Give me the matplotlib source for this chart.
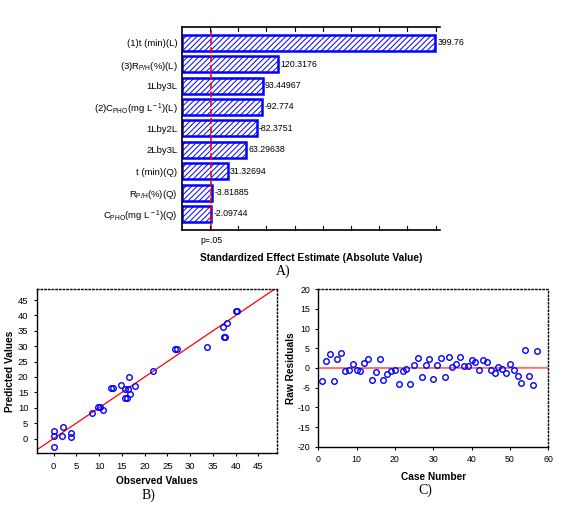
import matplotlib
matplotlib.use("Agg")
import matplotlib.pyplot as plt
import numpy as np

plt.rcParams['font.family'] = ['Liberation Sans', 'DejaVu Sans']
plt.rcParams['mathtext.fontset'] = 'custom'
plt.rcParams['mathtext.rm'] = 'Liberation Sans'
plt.rcParams['mathtext.it'] = 'Liberation Sans'
plt.rcParams['axes.unicode_minus'] = False
plt.rcParams['hatch.linewidth'] = 0.7
plt.rcParams['hatch.color'] = '#0000ff'

# ---- Data: Pareto chart (A) ----
effect_names = [r"(1)t (min)(L)",
                r"(3)R$_{\rm P/H}$(%)(L)",
                r"1Lby3L",
                r"(2)C$_{\rm PHO}$(mg L$^{\rm -1}$)(L)",
                r"1Lby2L",
                r"2Lby3L",
                r"t (min)(Q)",
                r"R$_{\rm P/H}$(%)(Q)",
                r"C$_{\rm PHO}$(mg L$^{\rm -1}$)(Q)"]
effect_values = [399.76, 120.3176, 93.44967, 92.774, 82.3751, 63.29638, 31.32694, 3.81885, 2.09744]
effect_labels = ["399.76", "120.3176", "93.44967", "-92.774", "-82.3751", "63.29638", "31.32694", "-3.81885", "-2.09744"]
p_crit = 2.0

# ---- Data: observed vs predicted (B) ----
observed = [0, 0, 0, 1.8, 2.0, 3.8, 3.9, 8.4, 9.8, 10.2, 10.8, 12.6, 13.0, 14.9, 15.6, 15.6, 16.2, 16.3,
            16.6, 16.8, 17.8, 21.9, 26.6, 27.0, 33.6, 37.2, 37.5, 37.7, 38.0, 40.0, 40.3]
predicted = [2.6, 0.7, -2.6, 0.7, 3.6, 1.7, 0.4, 8.2, 10.1, 10.4, 9.3, 16.3, 16.3, 17.4, 16.0, 13.1, 13.1, 16.0,
             20.1, 14.5, 17.1, 22.0, 29.1, 29.1, 29.9, 36.2, 33.1, 33.1, 37.4, 41.4, 41.4]

# ---- Data: residuals by case (C) ----
case_number = list(range(1, 58))
residuals = [-3.2, 1.8, 3.6, -3.2, 2.2, 3.7, -0.7, -0.4, 1.1, -0.6,
             -0.8, 1.3, 2.2, -3.0, -1.0, 2.2, -3.0, -1.5, -0.7, -0.4,
             -4.1, -0.7, -0.2, -4.1, 0.7, 2.6, -2.4, 0.7, 2.2, -2.8,
             0.7, 2.6, -2.4, 2.9, 0.25, 0.9, 2.9, 0.5, 0.5, 2.0,
             1.4, -0.6, 2.0, 1.6, -0.4, -1.3, 0.25, -0.2, -1.3, 0.9,
             -0.4, -2.1, -3.9, 4.6, -2.1, -4.3, 4.2]

fig = plt.figure(figsize=(5.69, 5.08), dpi=100)

# ================= A =================
axA = fig.add_axes([0.3193, 0.5472, 0.4540, 0.4002])
x0 = -50.5
ypos = np.arange(len(effect_values))
axA.barh(ypos, np.array(effect_values) - x0, left=x0, height=0.75,
         facecolor='white', edgecolor='#0000ff', linewidth=1.8, hatch='//////')
axA.set_xlim(x0, 408)
axA.set_ylim(8.75, -0.75)
axA.axvline(p_crit, color='red', linestyle='--', linewidth=1.2)
for y, v, lab in zip(ypos, effect_values, effect_labels):
    axA.text(v + 4, y, lab, va='center', ha='left', fontsize=6.3, clip_on=False)
axA.set_yticks(ypos)
axA.set_yticklabels(effect_names, fontsize=6.8)
axA.tick_params(axis='y', length=0, pad=3)
axA.set_xticks([p_crit])
axA.set_xticklabels(['p=.05'], fontsize=6.3)
axA.tick_params(axis='x', length=0, pad=4)
for t in np.arange(0, 401, 50):
    axA.plot([t, t], [8.75, 8.55], color='black', lw=0.8, clip_on=False)
    axA.plot([t, t], [-0.75, -0.55], color='black', lw=0.8, clip_on=False)
for s in axA.spines.values():
    s.set_linewidth(1.2)
axA.spines['right'].set_visible(False)
axA.set_xlabel('Standardized Effect Estimate (Absolute Value)', fontsize=7.3,
               fontweight='bold', labelpad=6)
fig.text(283 / 569, 1 - 271 / 508, 'A)', family='Liberation Serif', fontsize=10,
         ha='center', va='center')

# ================= B =================
axB = fig.add_axes([0.0645, 0.1077, 0.4218, 0.3228])
lims = np.array([-10, 60])
axB.plot(lims, lims, color='red', linewidth=0.9)
axB.plot(observed, predicted, 'o', mfc='none', mec='#0000ff', ms=4, mew=1)
axB.set_xlim(-3.7, 49)
axB.set_ylim(-4.8, 48.5)
axB.set_xticks(np.arange(0, 46, 5))
axB.set_yticks(np.arange(0, 46, 5))
axB.tick_params(labelsize=6.8, length=2.5, width=0.8)
axB.spines['top'].set_linestyle(':')
axB.spines['right'].set_linestyle(':')
for s in axB.spines.values():
    s.set_linewidth(1.0)
axB.set_xlabel('Observed Values', fontsize=7.3, fontweight='bold', labelpad=4)
axB.set_ylabel('Predicted Values', fontsize=7.3, fontweight='bold', labelpad=2)
fig.text(148 / 569, 1 - 495 / 508, 'B)', family='Liberation Serif', fontsize=10,
         ha='center', va='center')

# ================= C =================
axC = fig.add_axes([0.5594, 0.1207, 0.4042, 0.3098])
coef = np.polyfit(case_number, residuals, 1)
xx = np.array([0, 60])
axC.plot(xx, np.polyval(coef, xx), color='#ff7070', linewidth=1.4)
axC.plot(case_number, residuals, 'o', mfc='none', mec='#0000ff', ms=4, mew=1)
axC.set_xlim(0, 60)
axC.set_ylim(-20, 20)
axC.set_xticks(np.arange(0, 61, 10))
axC.set_yticks(np.arange(-20, 21, 5))
axC.tick_params(labelsize=6.3, length=2.5, width=0.8)
axC.spines['top'].set_linestyle(':')
axC.spines['right'].set_linestyle(':')
for s in axC.spines.values():
    s.set_linewidth(1.0)
axC.set_xlabel('Case Number', fontsize=7.3, fontweight='bold', labelpad=6)
axC.set_ylabel('Raw Residuals', fontsize=7.3, fontweight='bold', labelpad=1)
fig.text(425 / 569, 1 - 490 / 508, 'C)', family='Liberation Serif', fontsize=10,
         ha='center', va='center')

fig.savefig('out.png', dpi=100)
